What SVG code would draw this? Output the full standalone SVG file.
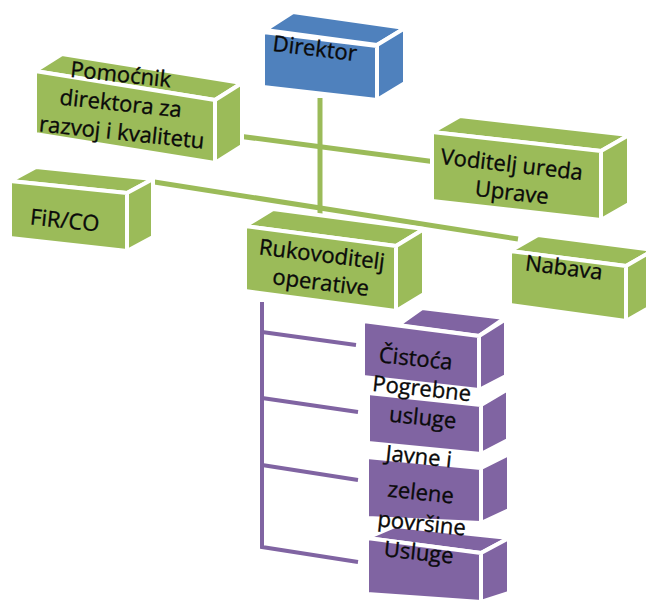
<svg xmlns="http://www.w3.org/2000/svg" width="646" height="602" viewBox="0 0 646 602">
  <style>
    .face { stroke: #ffffff; stroke-width: 4; stroke-linejoin: round; }
    .green { fill: #9bbb59; }
    .blue { fill: #4f81bd; }
    .purple { fill: #8064a2; }
    .link-green { stroke: #9bbb59; stroke-width: 5; fill: none; }
    .link-purple { stroke: #8064a2; stroke-width: 4; fill: none; }
    .label { font-family: "Open Sans", "Noto Sans", "Liberation Sans", sans-serif; font-size: 22px; fill: #0a0a0a; stroke: #0a0a0a; stroke-width: 0.35; text-anchor: middle; }
  </style>

  <rect width="646" height="602" fill="#ffffff"/>

  <!-- connectors -->
  <g id="connectors">
    <line class="link-green" x1="320" y1="98" x2="320" y2="214"/>
    <line class="link-green" x1="238" y1="136" x2="436" y2="162"/>
    <line class="link-green" x1="148" y1="181" x2="518" y2="239"/>
    <polyline class="link-purple" points="262,302 262,547 358,562"/>
    <line class="link-purple" x1="262" y1="332" x2="356" y2="345"/>
    <line class="link-purple" x1="262" y1="398" x2="358" y2="412"/>
    <line class="link-purple" x1="262" y1="465" x2="358" y2="480"/>
  </g>

  <!-- top level -->
  <g id="direktor">
    <polygon class="face blue" points="265,30 377,45 405,28 293,12"/>
    <polygon class="face blue" points="377,45 405,28 405,83 377,100"/>
    <polygon class="face blue" points="263,32 377,46 377,100 263,87"/>
    <text class="label" transform="rotate(7 314 56)" x="314" y="56">Direktor</text>
  </g>

  <g id="pomocnik">
    <polygon class="face green" points="35,71 215,100 242,83 62,54"/>
    <polygon class="face green" points="215,100 242,83 242,146 215,163"/>
    <polygon class="face green" points="35,71 215,100 215,163 35,134"/>
    <text class="label" transform="rotate(6 120 82)" x="120" y="82">Pomoćnik</text>
    <text class="label" transform="rotate(6 120 111)" x="120" y="111">direktora za</text>
    <text class="label" transform="rotate(6 121 140)" x="121" y="140">razvoj i kvalitetu</text>
  </g>

  <g id="voditelj">
    <polygon class="face green" points="432,132 601,151 629,135 460,116"/>
    <polygon class="face green" points="601,151 629,135 629,204 601,220"/>
    <polygon class="face green" points="432,132 601,151 601,220 432,201"/>
    <text class="label" transform="rotate(6.5 511 172)" x="511" y="172">Voditelj ureda</text>
    <text class="label" transform="rotate(6.5 511 200)" x="511" y="200">Uprave</text>
  </g>

  <g id="fir-co">
    <polygon class="face green" points="10,181 127,193 153,179 36,167"/>
    <polygon class="face green" points="127,193 153,179 153,237 127,251"/>
    <polygon class="face green" points="10,181 127,193 127,251 10,238"/>
    <text class="label" transform="rotate(6 64 228)" x="64" y="228">FiR/CO</text>
  </g>

  <g id="rukovoditelj">
    <polygon class="face green" points="245,226 396,246 424,229 273,209"/>
    <polygon class="face green" points="396,246 424,229 424,294 396,311"/>
    <polygon class="face green" points="245,226 396,246 396,311 245,291"/>
    <text class="label" transform="rotate(7 321 262)" x="321" y="262">Rukovoditelj</text>
    <text class="label" transform="rotate(7 320 290)" x="320" y="290">operative</text>
  </g>

  <g id="nabava">
    <polygon class="face green" points="510,251 626,266 654,250 538,235"/>
    <polygon class="face green" points="626,266 654,250 654,305 626,321"/>
    <polygon class="face green" points="510,251 626,266 626,321 510,305"/>
    <text class="label" transform="rotate(7 563 275)" x="563" y="275">Nabava</text>
  </g>

  <!-- operative units -->
  <g id="cistoca">
    <polygon class="face purple" points="398,325 422,308 505,318 479,336"/>
    <polygon class="face purple" points="479,336 506,319 506,376 479,390"/>
    <polygon class="face purple" points="363,321 479,336 479,390 363,377"/>
    <text class="label" transform="rotate(6 415 366)" x="415" y="366">Čistoća</text>
  </g>

  <g id="pogrebne">
    <polygon class="face purple" points="481,405 508,389 508,440 481,454"/>
    <polygon class="face purple" points="368,393 481,405 481,454 368,443"/>
    <text class="label" transform="rotate(6 421 396)" x="421" y="396">Pogrebne</text>
    <text class="label" transform="rotate(6 422 425)" x="422" y="425">usluge</text>
  </g>

  <g id="usluge">
    <polygon class="face purple" points="367,538 395,526 509,538 481,553"/>
    <polygon class="face purple" points="481,553 509,538 509,593 481,602"/>
    <polygon class="face purple" points="367,538 481,553 481,602 367,594"/>
    <text class="label" transform="rotate(6 418 560)" x="418" y="560">Usluge</text>
  </g>

  <g id="javne-zelene">
    <polygon class="face purple" points="481,468 509,454 509,510 481,523"/>
    <polygon class="face purple" points="367,457 481,468 481,523 367,518"/>
    <text class="label" transform="rotate(6 418 464)" x="418" y="464">Javne i</text>
    <text class="label" transform="rotate(6 420 500)" x="420" y="500">zelene</text>
    <text class="label" transform="rotate(6 421 531)" x="421" y="531">površine</text>
  </g>
</svg>
